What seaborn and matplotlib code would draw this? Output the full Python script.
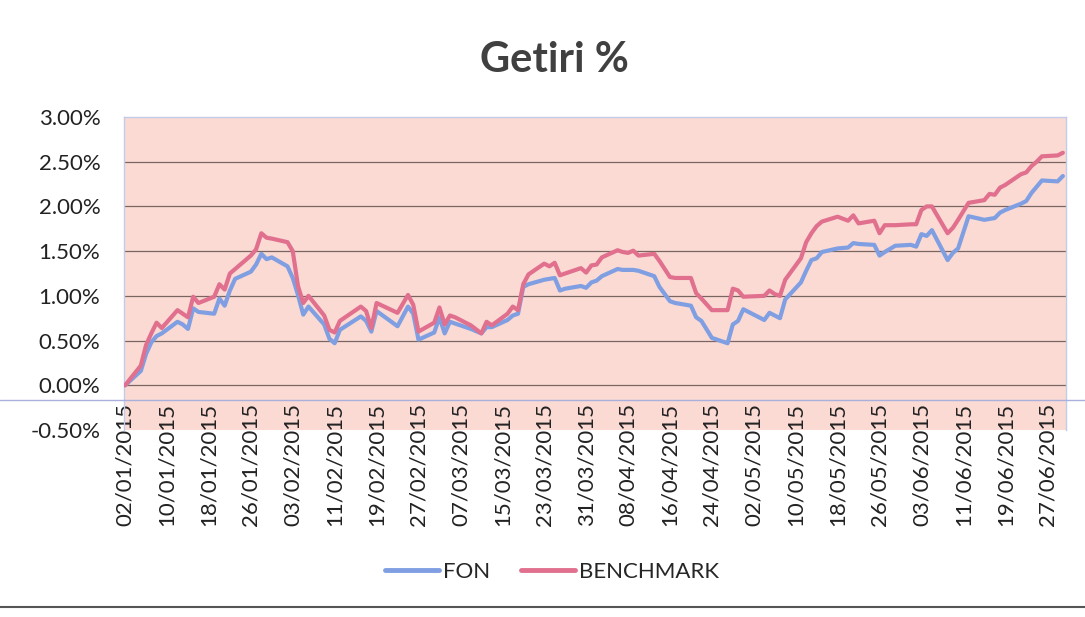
import matplotlib
matplotlib.use("Agg")
import matplotlib.pyplot as plt
from matplotlib.lines import Line2D
import pandas as pd
import seaborn as sns

# trading days (2015)
dates = [
    # Jan
    "2015-01-02", "2015-01-05", "2015-01-06", "2015-01-07", "2015-01-08", "2015-01-09",
    "2015-01-12", "2015-01-13", "2015-01-14", "2015-01-15", "2015-01-16",
    "2015-01-19", "2015-01-20", "2015-01-21", "2015-01-22", "2015-01-23",
    "2015-01-26", "2015-01-27", "2015-01-28", "2015-01-29", "2015-01-30",
    # Feb
    "2015-02-02", "2015-02-03", "2015-02-04", "2015-02-05", "2015-02-06",
    "2015-02-09", "2015-02-10", "2015-02-11", "2015-02-12",
    "2015-02-16", "2015-02-17", "2015-02-18", "2015-02-19",
    "2015-02-23", "2015-02-25", "2015-02-26", "2015-02-27",
    # Mar
    "2015-03-02", "2015-03-03", "2015-03-04", "2015-03-05", "2015-03-06",
    "2015-03-09", "2015-03-11", "2015-03-12", "2015-03-13",
    "2015-03-16", "2015-03-17", "2015-03-18", "2015-03-19", "2015-03-20",
    "2015-03-23", "2015-03-24", "2015-03-25", "2015-03-26", "2015-03-27",
    "2015-03-30", "2015-03-31",
    # Apr
    "2015-04-01", "2015-04-02", "2015-04-03",
    "2015-04-06", "2015-04-07", "2015-04-08", "2015-04-09", "2015-04-10",
    "2015-04-13", "2015-04-14", "2015-04-15", "2015-04-16", "2015-04-17",
    "2015-04-20", "2015-04-21", "2015-04-22", "2015-04-24",
    "2015-04-27", "2015-04-28", "2015-04-29", "2015-04-30",
    # May
    "2015-05-04", "2015-05-05", "2015-05-06", "2015-05-07", "2015-05-08",
    "2015-05-11", "2015-05-12", "2015-05-13", "2015-05-14", "2015-05-15",
    "2015-05-18", "2015-05-20", "2015-05-21", "2015-05-22",
    "2015-05-25", "2015-05-26", "2015-05-27", "2015-05-29",
    # Jun
    "2015-06-01", "2015-06-02", "2015-06-03", "2015-06-04", "2015-06-05",
    "2015-06-08", "2015-06-09", "2015-06-10", "2015-06-12",
    "2015-06-15", "2015-06-16", "2015-06-17", "2015-06-18", "2015-06-19",
    "2015-06-22", "2015-06-23", "2015-06-24", "2015-06-25", "2015-06-26",
    "2015-06-29", "2015-06-30",
]

fon = [
    0.00, 0.16, 0.35, 0.48, 0.55, 0.58, 0.71, 0.68, 0.63, 0.86, 0.82,
    0.80, 0.97, 0.89, 1.06, 1.19, 1.27, 1.35, 1.47, 1.41, 1.43,
    1.33, 1.20, 1.01, 0.79, 0.88, 0.68, 0.52, 0.47, 0.62,
    0.77, 0.72, 0.60, 0.83, 0.66, 0.88, 0.80, 0.51,
    0.59, 0.76, 0.58, 0.71, 0.69, 0.63, 0.58, 0.65, 0.65,
    0.73, 0.78, 0.80, 1.10, 1.13, 1.18, 1.19, 1.20, 1.06, 1.08,
    1.11, 1.09,
    1.15, 1.17, 1.22, 1.30, 1.29, 1.29, 1.29, 1.28,
    1.22, 1.10, 1.02, 0.94, 0.92, 0.89, 0.76, 0.72, 0.53,
    0.47, 0.68, 0.72, 0.85,
    0.73, 0.81, 0.78, 0.75, 0.96, 1.15, 1.28, 1.40, 1.42, 1.49,
    1.53, 1.54, 1.59, 1.58, 1.57, 1.45, 1.49, 1.56,
    1.57, 1.55, 1.69, 1.67, 1.735, 1.40, 1.48, 1.53, 1.89,
    1.85, 1.86, 1.87, 1.93, 1.96, 2.03, 2.06, 2.15, 2.22, 2.29,
    2.28, 2.34,
]

benchmark = [
    0.00, 0.22, 0.45, 0.58, 0.70, 0.64, 0.84, 0.80, 0.76, 0.99, 0.92,
    0.99, 1.13, 1.07, 1.25, 1.30, 1.45, 1.52, 1.70, 1.65, 1.64,
    1.60, 1.50, 1.11, 0.92, 1.00, 0.78, 0.62, 0.59, 0.72,
    0.88, 0.83, 0.64, 0.92, 0.81, 1.01, 0.90, 0.60,
    0.70, 0.87, 0.68, 0.78, 0.76, 0.67, 0.58, 0.71, 0.67,
    0.80, 0.88, 0.84, 1.13, 1.24, 1.36, 1.33, 1.37, 1.23, 1.25,
    1.31, 1.26,
    1.34, 1.35, 1.43, 1.51, 1.49, 1.48, 1.505, 1.45,
    1.47, 1.39, 1.30, 1.21, 1.20, 1.20, 1.03, 0.97, 0.84,
    0.84, 1.08, 1.06, 0.99,
    1.00, 1.06, 1.02, 1.00, 1.18, 1.42, 1.60, 1.70, 1.78, 1.83,
    1.885, 1.84, 1.90, 1.81, 1.84, 1.70, 1.79, 1.79,
    1.80, 1.80, 1.96, 2.00, 2.00, 1.70, 1.76, 1.85, 2.04,
    2.07, 2.14, 2.13, 2.21, 2.24, 2.36, 2.38, 2.45, 2.50, 2.56,
    2.57, 2.60,
]

tick_labels = [
    "02/01/2015", "10/01/2015", "18/01/2015", "26/01/2015", "03/02/2015",
    "11/02/2015", "19/02/2015", "27/02/2015", "07/03/2015", "15/03/2015",
    "23/03/2015", "31/03/2015", "08/04/2015", "16/04/2015", "24/04/2015",
    "02/05/2015", "10/05/2015", "18/05/2015", "26/05/2015", "03/06/2015",
    "11/06/2015", "19/06/2015", "27/06/2015",
]
y_ticks = [-0.5, 0.0, 0.5, 1.0, 1.5, 2.0, 2.5, 3.0]

n = len(dates)
df = pd.DataFrame({
    "date": pd.to_datetime(dates * 2),
    "value": fon + benchmark,
    "series": ["FON"] * n + ["BENCHMARK"] * n,
})
colors = {"FON": "#7f9fe2", "BENCHMARK": "#e0708e"}

sns.set_theme(style="white")
plt.rcParams["font.family"] = ["Lato", "DejaVu Sans"]

fig = plt.figure(figsize=(10.85, 6.17), dpi=100)
ax = fig.add_axes([0.1143, 0.3031, 0.8682, 0.5073])
ax.set_facecolor("#fbdad4")

for yv in y_ticks[1:-1]:
    ax.axhline(yv, color="#7a6660", lw=0.9, zorder=1)

sns.lineplot(data=df, x="date", y="value", hue="series", palette=colors,
             linewidth=3.0, ax=ax, legend=False, zorder=3)

start = pd.Timestamp("2015-01-02")
ax.set_xlim(start - pd.Timedelta(hours=5), start + pd.Timedelta(days=179.6))
ax.set_ylim(-0.5, 3.0)
ax.set_xticks(pd.to_datetime(tick_labels, format="%d/%m/%Y"))
ax.set_xticklabels(tick_labels, rotation=90, fontsize=16, color="#222222")
ax.set_yticks(y_ticks)
ax.set_yticklabels([f"{v:.2f}%" for v in y_ticks], fontsize=16, color="#222222")
ax.tick_params(axis="x", pad=-19.5, length=0)
ax.tick_params(axis="y", pad=17, length=0)
ax.set_xlabel("")
ax.set_ylabel("")
ax.grid(False)
for side in ["top", "left", "right"]:
    ax.spines[side].set_color("#c3cbea")
    ax.spines[side].set_linewidth(1)
ax.spines["bottom"].set_visible(False)

fig.text(0.511, 1 - 60 / 617, "Getiri %", ha="center", va="center",
         fontsize=30, fontweight="bold", color="#404040")

handles = [Line2D([], [], color=colors[k], lw=3.5) for k in ["FON", "BENCHMARK"]]
fig.legend(handles, ["FON", "BENCHMARK"], loc="center",
           bbox_to_anchor=(0.509, 1 - 572 / 617), ncol=2, frameon=False,
           fontsize=16, handlelength=2.4, handletextpad=0.2, columnspacing=1.4)

# scan line and chart border
fig.add_artist(Line2D([0, 1], [1 - 400 / 617] * 2, color="#a9b0dc", lw=1))
fig.add_artist(Line2D([0, 1], [1 - 607 / 617] * 2, color="#555555", lw=1.5))

fig.savefig("out.png", dpi=100)
